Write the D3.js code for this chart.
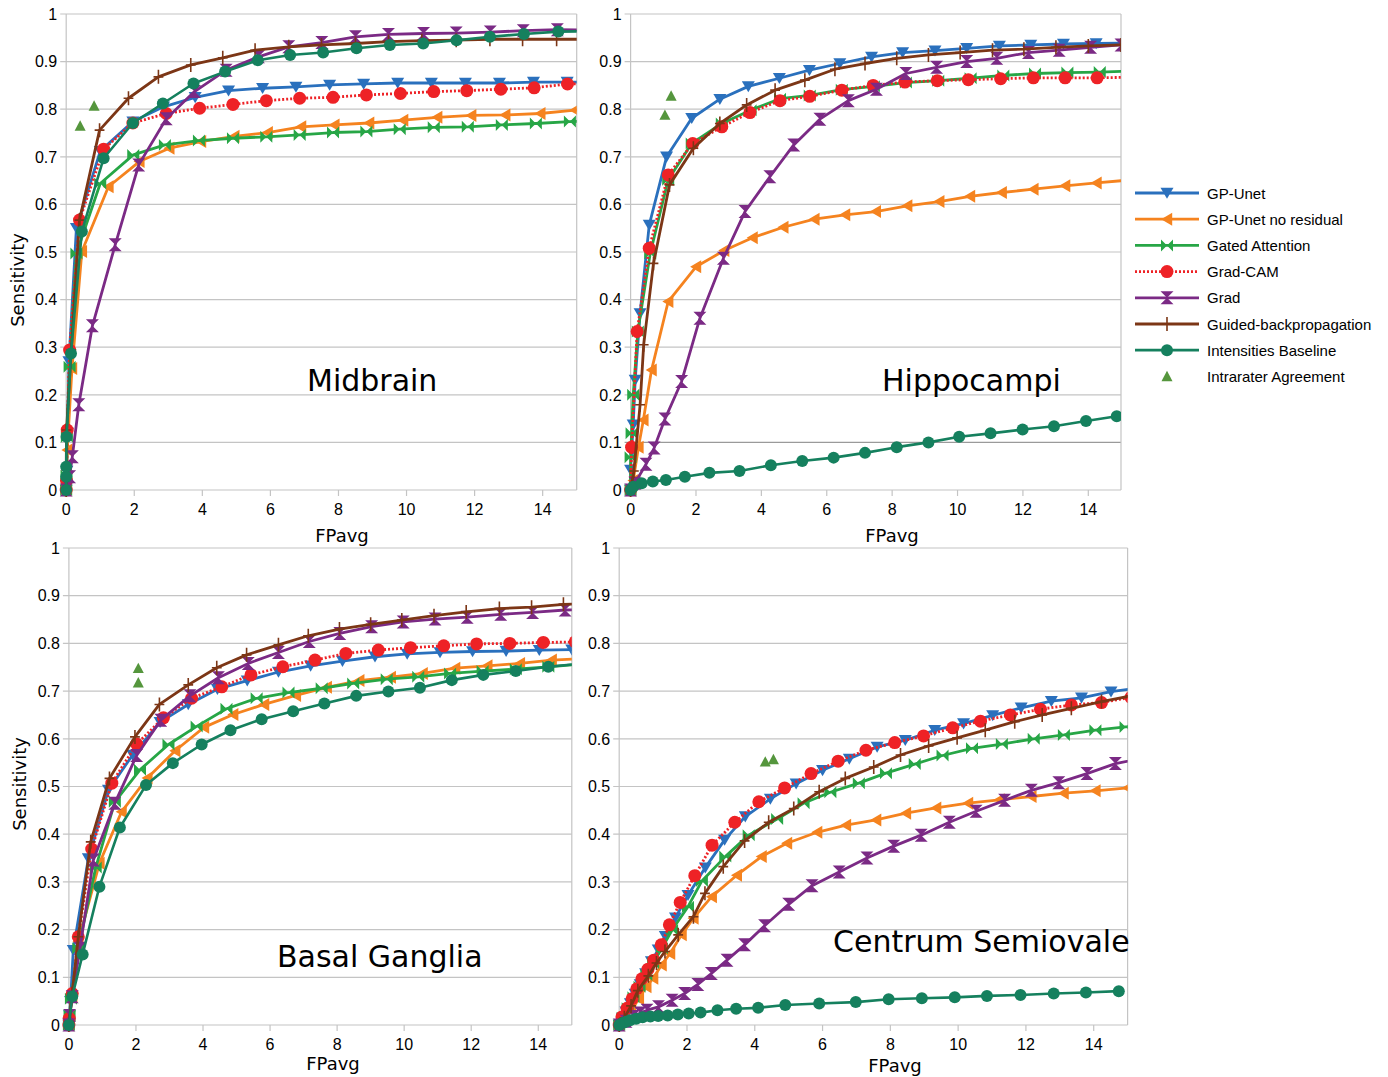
<!DOCTYPE html>
<html>
<head>
<meta charset="utf-8">
<script src="https://cdn.jsdelivr.net/npm/d3@7"></script>
<style>
  body { margin: 0; background: #fff; }
  svg { display: block; }
</style>
</head>
<body>
<svg id="chart" width="1388" height="1077"></svg>
<script>
// Series names, in legend order
const seriesNames = ["GP-Unet", "GP-Unet no residual", "Gated Attention", "Grad-CAM", "Grad",
  "Guided-backpropagation", "Intensities Baseline", "Intrarater Agreement"];
const seriesColors = ["#2a70bd", "#f5831f", "#27a646", "#ee2226", "#7b2a85", "#7c3616", "#15805e", "#55963d"];

const xTicks = [0, 2, 4, 6, 8, 10, 12, 14];
const yTicks = [0, 0.1, 0.2, 0.3, 0.4, 0.5, 0.6, 0.7, 0.8, 0.9, 1];
const yTickLabels = ["0", "0.1", "0.2", "0.3", "0.4", "0.5", "0.6", "0.7", "0.8", "0.9", "1"];

// ---- Midbrain: [FPavg, sensitivity]
const midGpUnet = [[0,0],[0.01,0.01],[0.02,0.04],[0.04,0.12],[0.08,0.27],[0.3,0.55],[1.0,0.712],[1.96,0.774],[2.86,0.805],[3.79,0.825],[4.77,0.839],[5.77,0.844],[6.75,0.847],[7.74,0.851],[8.74,0.853],[9.74,0.855],[10.73,0.855],[11.73,0.855],[12.73,0.855],[13.73,0.857],[14.72,0.857],[15.7,0.857]];
const midNoRes = [[0,0],[0.01,0.02],[0.03,0.084],[0.17,0.255],[0.46,0.501],[1.24,0.637],[2.15,0.69],[3.03,0.718],[3.96,0.732],[4.94,0.743],[5.92,0.751],[6.9,0.763],[7.88,0.767],[8.9,0.771],[9.9,0.777],[10.9,0.783],[11.9,0.787],[12.9,0.788],[13.93,0.791],[14.95,0.798],[15.9,0.804]];
const midGated = [[0,0],[0.01,0.03],[0.02,0.112],[0.1,0.259],[0.3,0.497],[1.0,0.644],[1.97,0.704],[2.9,0.725],[3.9,0.734],[4.9,0.739],[5.88,0.742],[6.86,0.746],[7.84,0.751],[8.82,0.753],[9.8,0.758],[10.8,0.762],[11.8,0.763],[12.8,0.767],[13.8,0.77],[14.8,0.774],[15.8,0.777]];
const midGradCam = [[0,0],[0.01,0.02],[0.03,0.126],[0.1,0.294],[0.39,0.567],[1.1,0.716],[1.96,0.771],[2.94,0.791],[3.92,0.802],[4.9,0.81],[5.88,0.818],[6.86,0.823],[7.84,0.825],[8.82,0.83],[9.82,0.833],[10.8,0.837],[11.77,0.839],[12.77,0.842],[13.75,0.845],[14.73,0.853],[15.7,0.853]];
const midGrad = [[0,0],[0.1,0.028],[0.18,0.07],[0.37,0.179],[0.77,0.345],[1.44,0.515],[2.13,0.683],[2.94,0.78],[3.77,0.837],[4.7,0.882],[5.65,0.91],[6.54,0.931],[7.51,0.94],[8.5,0.952],[9.47,0.957],[10.5,0.959],[11.46,0.96],[12.46,0.962],[13.43,0.965],[14.43,0.967],[15.4,0.966]];
const midGuided = [[0,0],[0,0.042],[0.01,0.126],[0.15,0.294],[0.39,0.567],[0.98,0.756],[1.83,0.823],[2.71,0.868],[3.66,0.893],[4.6,0.908],[5.55,0.924],[6.54,0.931],[7.5,0.935],[8.5,0.938],[9.47,0.942],[10.45,0.944],[11.46,0.945],[12.45,0.947],[13.41,0.947],[14.41,0.947],[15.4,0.947]];
const midIntens = [[0,0],[0,0.028],[0,0.049],[0.01,0.112],[0.14,0.287],[0.46,0.543],[1.1,0.697],[1.96,0.771],[2.84,0.812],[3.74,0.854],[4.67,0.879],[5.63,0.903],[6.58,0.914],[7.55,0.919],[8.53,0.928],[9.51,0.935],[10.49,0.938],[11.47,0.945],[12.45,0.952],[13.45,0.958],[14.46,0.963],[15.4,0.964]];
const midIntra = [[0.41,0.765],[0.82,0.807]];

// ---- Hippocampi
const hipGpUnet = [[0,0],[0,0.042],[0.03,0.08],[0.08,0.137],[0.14,0.231],[0.29,0.371],[0.57,0.557],[1.1,0.7],[1.87,0.781],[2.73,0.821],[3.6,0.848],[4.55,0.865],[5.47,0.882],[6.4,0.896],[7.37,0.91],[8.32,0.919],[9.31,0.923],[10.28,0.928],[11.28,0.933],[12.24,0.935],[13.24,0.937],[14.24,0.938],[15.2,0.939]];
const hipNoRes = [[0,0],[0.08,0.02],[0.24,0.09],[0.39,0.147],[0.64,0.252],[1.15,0.396],[2.0,0.469],[2.86,0.503],[3.73,0.53],[4.67,0.552],[5.62,0.569],[6.56,0.578],[7.5,0.585],[8.46,0.597],[9.44,0.606],[10.38,0.617],[11.35,0.625],[12.32,0.632],[13.29,0.639],[14.25,0.645],[15.2,0.651]];
const hipGated = [[0,0],[0,0.069],[0.03,0.119],[0.08,0.2],[0.22,0.333],[0.6,0.497],[1.15,0.652],[1.87,0.728],[2.79,0.77],[3.67,0.798],[4.57,0.822],[5.48,0.829],[6.46,0.841],[7.44,0.848],[8.42,0.856],[9.41,0.86],[10.4,0.865],[11.4,0.871],[12.37,0.875],[13.36,0.877],[14.35,0.878],[15.3,0.88]];
const hipGradCam = [[0,0],[0.03,0.09],[0.2,0.333],[0.57,0.508],[1.15,0.662],[1.9,0.728],[2.79,0.763],[3.65,0.793],[4.57,0.818],[5.48,0.827],[6.46,0.84],[7.42,0.85],[8.39,0.857],[9.38,0.86],[10.33,0.862],[11.32,0.864],[12.32,0.866],[13.29,0.866],[14.27,0.866],[15.2,0.867]];
const hipGrad = [[0,0],[0.13,0.014],[0.47,0.054],[0.72,0.088],[1.05,0.149],[1.56,0.228],[2.12,0.361],[2.84,0.487],[3.5,0.585],[4.26,0.658],[4.99,0.725],[5.79,0.779],[6.66,0.818],[7.52,0.842],[8.42,0.875],[9.36,0.888],[10.28,0.9],[11.2,0.907],[12.17,0.919],[13.11,0.924],[14.07,0.93],[15.0,0.935]];
const hipGuided = [[0,0],[0.1,0.04],[0.29,0.179],[0.4,0.305],[0.7,0.476],[1.19,0.641],[1.92,0.718],[2.73,0.77],[3.55,0.809],[4.42,0.84],[5.33,0.861],[6.25,0.884],[7.17,0.896],[8.14,0.907],[9.11,0.914],[10.08,0.919],[11.07,0.924],[12.03,0.926],[13.01,0.93],[14.0,0.933],[15.0,0.935]];
const hipIntens = [[0,0],[0.08,0.007],[0.34,0.014],[0.68,0.018],[1.08,0.021],[1.66,0.028],[2.41,0.036],[3.33,0.04],[4.29,0.052],[5.25,0.061],[6.21,0.068],[7.17,0.078],[8.14,0.09],[9.11,0.1],[10.05,0.112],[11.01,0.119],[11.99,0.127],[12.95,0.134],[13.93,0.145],[14.87,0.155]];
const hipIntra = [[1.05,0.788],[1.24,0.828]];

// ---- Basal Ganglia
const bgGpUnet = [[0,0],[0.02,0.02],[0.05,0.05],[0.13,0.157],[0.58,0.349],[1.18,0.493],[1.9,0.566],[2.72,0.635],[3.56,0.672],[4.43,0.704],[5.32,0.722],[6.25,0.74],[7.21,0.753],[8.16,0.763],[9.13,0.772],[10.09,0.778],[11.07,0.781],[12.04,0.783],[13.04,0.784],[14.03,0.786],[15.0,0.787]];
const bgNoRes = [[0,0],[0.02,0.02],[0.1,0.06],[0.28,0.175],[0.91,0.339],[1.57,0.447],[2.34,0.518],[3.17,0.575],[4.03,0.624],[4.9,0.651],[5.82,0.672],[6.77,0.691],[7.69,0.708],[8.66,0.722],[9.6,0.729],[10.55,0.737],[11.52,0.748],[12.48,0.753],[13.45,0.758],[14.4,0.765],[15.3,0.768]];
const bgGated = [[0,0],[0.02,0.02],[0.06,0.055],[0.28,0.161],[0.8,0.33],[1.37,0.468],[2.12,0.535],[2.97,0.588],[3.81,0.626],[4.7,0.663],[5.6,0.685],[6.55,0.697],[7.54,0.706],[8.48,0.716],[9.48,0.725],[10.42,0.73],[11.37,0.737],[12.34,0.742],[13.33,0.746],[14.3,0.751],[15.2,0.756]];
const bgGradCam = [[0,0],[0.01,0.014],[0.1,0.066],[0.28,0.185],[0.68,0.369],[1.28,0.507],[2.02,0.589],[2.82,0.644],[3.66,0.685],[4.56,0.709],[5.43,0.734],[6.38,0.751],[7.34,0.765],[8.26,0.779],[9.23,0.786],[10.19,0.791],[11.18,0.795],[12.16,0.799],[13.15,0.8],[14.15,0.802],[15.1,0.803]];
const bgGrad = [[0,0],[0.02,0.02],[0.1,0.059],[0.33,0.161],[0.73,0.346],[1.37,0.465],[2.02,0.565],[2.74,0.639],[3.61,0.69],[4.46,0.728],[5.35,0.758],[6.25,0.781],[7.17,0.804],[8.08,0.821],[9.03,0.835],[9.97,0.845],[10.92,0.851],[11.88,0.855],[12.88,0.861],[13.83,0.865],[14.8,0.87],[15.8,0.872]];
const bgGuided = [[0,0],[0.01,0.007],[0.1,0.066],[0.28,0.185],[0.65,0.384],[1.21,0.517],[1.97,0.604],[2.7,0.672],[3.56,0.713],[4.41,0.749],[5.3,0.776],[6.25,0.797],[7.14,0.816],[8.07,0.83],[9.0,0.84],[9.93,0.849],[10.89,0.858],[11.85,0.866],[12.84,0.873],[13.8,0.876],[14.75,0.882],[15.7,0.884]];
const bgIntens = [[0,0],[0.1,0.06],[0.41,0.148],[0.91,0.29],[1.52,0.414],[2.3,0.503],[3.1,0.549],[3.96,0.588],[4.82,0.618],[5.75,0.641],[6.69,0.658],[7.62,0.674],[8.57,0.69],[9.53,0.699],[10.47,0.707],[11.42,0.723],[12.36,0.734],[13.33,0.742],[14.3,0.751],[15.2,0.757]];
const bgIntra = [[2.07,0.748],[2.07,0.718]];

// ---- Centrum Semiovale
const csGpUnet = [[0,0],[0.1,0.013],[0.2,0.028],[0.33,0.045],[0.47,0.065],[0.62,0.085],[0.78,0.108],[0.95,0.133],[1.15,0.158],[1.36,0.186],[1.66,0.225],[2.03,0.272],[2.54,0.33],[3.11,0.388],[3.72,0.437],[4.46,0.474],[5.22,0.506],[6.0,0.534],[6.79,0.558],[7.61,0.583],[8.44,0.597],[9.31,0.618],[10.16,0.632],[11.02,0.649],[11.86,0.665],[12.75,0.679],[13.64,0.686],[14.51,0.699],[15.4,0.707]];
const csNoRes = [[0,0],[0.15,0.012],[0.35,0.03],[0.58,0.055],[0.8,0.08],[1.0,0.098],[1.25,0.126],[1.5,0.15],[1.84,0.189],[2.19,0.224],[2.73,0.269],[3.47,0.314],[4.2,0.353],[4.95,0.381],[5.84,0.404],[6.69,0.419],[7.58,0.43],[8.46,0.444],[9.35,0.455],[10.29,0.465],[11.22,0.472],[12.16,0.479],[13.11,0.486],[14.05,0.491],[15.0,0.497],[15.9,0.503]];
const csGated = [[0,0],[0.1,0.015],[0.25,0.035],[0.42,0.058],[0.6,0.08],[0.8,0.105],[1.0,0.13],[1.26,0.161],[1.56,0.199],[2.03,0.248],[2.44,0.302],[3.13,0.353],[3.82,0.398],[4.66,0.432],[5.44,0.465],[6.23,0.488],[7.07,0.507],[7.87,0.528],[8.72,0.547],[9.54,0.565],[10.41,0.58],[11.29,0.589],[12.23,0.6],[13.12,0.608],[14.05,0.618],[14.94,0.625],[15.8,0.632]];
const csGradCam = [[0,0],[0.08,0.017],[0.23,0.035],[0.38,0.055],[0.52,0.076],[0.67,0.097],[0.85,0.117],[1.02,0.136],[1.24,0.168],[1.48,0.21],[1.8,0.257],[2.23,0.313],[2.74,0.377],[3.41,0.425],[4.12,0.468],[4.88,0.497],[5.66,0.527],[6.46,0.553],[7.28,0.576],[8.13,0.592],[8.98,0.606],[9.84,0.623],[10.66,0.637],[11.54,0.65],[12.43,0.662],[13.34,0.671],[14.23,0.676],[15.1,0.687]];
const csGrad = [[0,0],[0.2,0.008],[0.42,0.018],[0.62,0.025],[0.82,0.031],[1.16,0.038],[1.56,0.052],[1.93,0.066],[2.32,0.085],[2.72,0.108],[3.18,0.136],[3.7,0.168],[4.29,0.208],[5.0,0.253],[5.69,0.292],[6.49,0.321],[7.31,0.35],[8.1,0.375],[8.91,0.398],[9.74,0.425],[10.53,0.448],[11.37,0.471],[12.16,0.492],[12.97,0.508],[13.8,0.527],[14.64,0.548],[15.5,0.56]];
const csGuided = [[0,0],[0.15,0.015],[0.35,0.04],[0.55,0.072],[0.86,0.103],[1.1,0.13],[1.35,0.154],[1.74,0.189],[2.19,0.227],[2.53,0.276],[3.07,0.332],[3.7,0.386],[4.41,0.425],[5.15,0.454],[5.9,0.489],[6.67,0.517],[7.51,0.541],[8.3,0.566],[9.13,0.585],[9.97,0.602],[10.8,0.618],[11.67,0.636],[12.48,0.65],[13.34,0.664],[14.23,0.678],[15.1,0.69]];
const csIntens = [[0,0],[0.1,0.004],[0.2,0.007],[0.32,0.01],[0.5,0.013],[0.69,0.016],[0.92,0.018],[1.15,0.019],[1.43,0.02],[1.73,0.022],[2.05,0.024],[2.4,0.026],[2.9,0.031],[3.45,0.034],[4.1,0.036],[4.9,0.042],[5.9,0.045],[6.98,0.048],[7.95,0.054],[8.93,0.056],[9.9,0.058],[10.85,0.061],[11.84,0.063],[12.82,0.066],[13.77,0.068],[14.74,0.071]];
const csIntra = [[4.31,0.552],[4.55,0.557]];

// panel layout (pixel box of each plot area)
const panels = [
  { title: "Midbrain", left: 66.2, right: 576.7, top: 14, bottom: 490, titleX: 307, titleY: 391, yLabel: [18, 280], xLabel: [342, 542],
    data: [midGpUnet, midNoRes, midGated, midGradCam, midGrad, midGuided, midIntens, midIntra] },
  { title: "Hippocampi", left: 630.6, right: 1121, top: 14, bottom: 490, titleX: 882, titleY: 391, yLabel: null, xLabel: [892, 542],
    data: [hipGpUnet, hipNoRes, hipGated, hipGradCam, hipGrad, hipGuided, hipIntens, hipIntra] },
  { title: "Basal Ganglia", left: 68.9, right: 571.8, top: 548, bottom: 1025, titleX: 277, titleY: 967, yLabel: [20, 784], xLabel: [333, 1070],
    data: [bgGpUnet, bgNoRes, bgGated, bgGradCam, bgGrad, bgGuided, bgIntens, bgIntra] },
  { title: "Centrum Semiovale", left: 619.2, right: 1127.6, top: 548, bottom: 1025, titleX: 833, titleY: 952, yLabel: null, xLabel: [895, 1072],
    data: [csGpUnet, csNoRes, csGated, csGradCam, csGrad, csGuided, csIntens, csIntra] }
];

const svg = d3.select("#chart");
const gridColor = "#c4c4c4";
const tickFont = "'Liberation Sans', Arial, sans-serif";
const labelFont = "'DejaVu Sans', sans-serif";

// marker shapes, one per series
function markerPath(i, s) {
  switch (i) {
    case 0: return `M${-s},${-s * 0.8}L${s},${-s * 0.8}L0,${s * 0.9}Z`;          // down triangle
    case 1: return `M${-s * 0.9},0L${s * 0.8},${-s}L${s * 0.8},${s}Z`;            // left triangle
    case 2: return `M${-s},${-s}L0,0L${-s},${s}ZM${s},${-s}L0,0L${s},${s}Z`;        // bowtie
    case 3: case 6: return d3.symbol(d3.symbolCircle, Math.PI * s * s)();
    case 4: return `M${-s},${-s}L${s},${-s}L0,0ZM${-s},${s}L${s},${s}L0,0Z`;        // hourglass
    case 5: return `M0,${-s}L0,${s}M${-s * 0.7},0L${s * 0.7},0`;                    // thin plus
    case 7: return `M${-s * 0.85},${s * 0.75}L${s * 0.85},${s * 0.75}L0,${-s * 0.85}Z`; // up triangle
  }
}
const markerSize = [6.5, 6.5, 6, 6.5, 6.5, 7, 6, 6.5];

function drawMarkers(g, i, pts) {
  const isPlus = i === 5;
  g.selectAll(null).data(pts).enter().append("path")
    .attr("d", markerPath(i, markerSize[i]))
    .attr("transform", d => `translate(${d[0]},${d[1]})`)
    .attr("fill", isPlus ? "none" : seriesColors[i])
    .attr("stroke", isPlus ? seriesColors[i] : "none")
    .attr("stroke-width", isPlus ? 1.6 : 0);
}

panels.forEach((p, k) => {
  const x = d3.scaleLinear().domain([0, 15]).range([p.left, p.right]);
  const y = d3.scaleLinear().domain([0, 1]).range([p.bottom, p.top]);
  const g = svg.append("g");

  // gridlines
  g.selectAll(null).data(yTicks).enter().append("line")
    .attr("x1", p.left - 6).attr("x2", p.right)
    .attr("y1", d => y(d)).attr("y2", d => y(d))
    .attr("stroke", (d) => (k === 1 && d === 0.1) ? "#9a9a9a" : gridColor).attr("stroke-width", 1.2);
  // axes frame
  g.append("line").attr("x1", p.left).attr("x2", p.left).attr("y1", p.top).attr("y2", p.bottom + 6)
    .attr("stroke", gridColor).attr("stroke-width", 1.2);
  g.append("line").attr("x1", p.right).attr("x2", p.right).attr("y1", p.top).attr("y2", p.bottom)
    .attr("stroke", gridColor).attr("stroke-width", 1.2);
  g.selectAll(null).data(xTicks).enter().append("line")
    .attr("x1", d => x(d)).attr("x2", d => x(d)).attr("y1", p.bottom).attr("y2", p.bottom + 6)
    .attr("stroke", gridColor).attr("stroke-width", 1.2);

  // tick labels
  g.selectAll(null).data(yTicks).enter().append("text")
    .attr("x", p.left - 9).attr("y", d => y(d)).attr("dy", "0.36em")
    .attr("text-anchor", "end").attr("font-family", tickFont).attr("font-size", 16)
    .text((d, i) => yTickLabels[i]);
  g.selectAll(null).data(xTicks).enter().append("text")
    .attr("x", d => x(d)).attr("y", p.bottom + 25)
    .attr("text-anchor", "middle").attr("font-family", tickFont).attr("font-size", 16)
    .text(d => d);

  // axis titles
  g.append("text").attr("x", p.xLabel[0]).attr("y", p.xLabel[1]).attr("text-anchor", "middle")
    .attr("font-family", labelFont).attr("font-size", 18).text("FPavg");
  if (p.yLabel) {
    g.append("text").attr("transform", `translate(${p.yLabel[0] + 6},${p.yLabel[1]}) rotate(-90)`)
      .attr("text-anchor", "middle").attr("font-family", labelFont).attr("font-size", 18).text("Sensitivity");
  }

  // panel title
  g.append("text").attr("x", p.titleX).attr("y", p.titleY)
    .attr("font-family", labelFont).attr("font-size", 30).text(p.title);

  // clip to the plot area on the right
  const clipId = "clip" + k;
  svg.append("clipPath").attr("id", clipId).append("rect")
    .attr("x", p.left - 20).attr("y", p.top - 20)
    .attr("width", p.right - p.left + 20).attr("height", p.bottom - p.top + 40);
  const plot = g.append("g").attr("clip-path", `url(#${clipId})`);

  const line = d3.line().x(d => x(d[0])).y(d => y(d[1]));
  p.data.forEach((series, i) => {
    const pts = series.map(d => [x(d[0]), y(d[1])]);
    const sg = plot.append("g");
    if (i !== 7) {
      sg.append("path").datum(series).attr("d", line)
        .attr("fill", "none").attr("stroke", seriesColors[i])
        .attr("stroke-width", i === 6 ? 2.6 : 2.8)
        .attr("stroke-dasharray", i === 3 ? "2,2" : null)
        .attr("stroke-linejoin", "round");
    }
    drawMarkers(sg, i, pts);
  });
});

// legend
const legend = svg.append("g");
seriesNames.forEach((name, i) => {
  const ly = 193 + i * 26.2;
  const lg = legend.append("g");
  if (i !== 7) {
    lg.append("line").attr("x1", 1135).attr("x2", 1199).attr("y1", ly).attr("y2", ly)
      .attr("stroke", seriesColors[i]).attr("stroke-width", 2.8)
      .attr("stroke-dasharray", i === 3 ? "2,2" : null);
  }
  drawMarkers(lg, i, [[1167, ly]]);
  lg.append("text").attr("x", 1207).attr("y", ly + 5.5)
    .attr("font-family", tickFont).attr("font-size", 15).text(name);
});
</script>
</body>
</html>
